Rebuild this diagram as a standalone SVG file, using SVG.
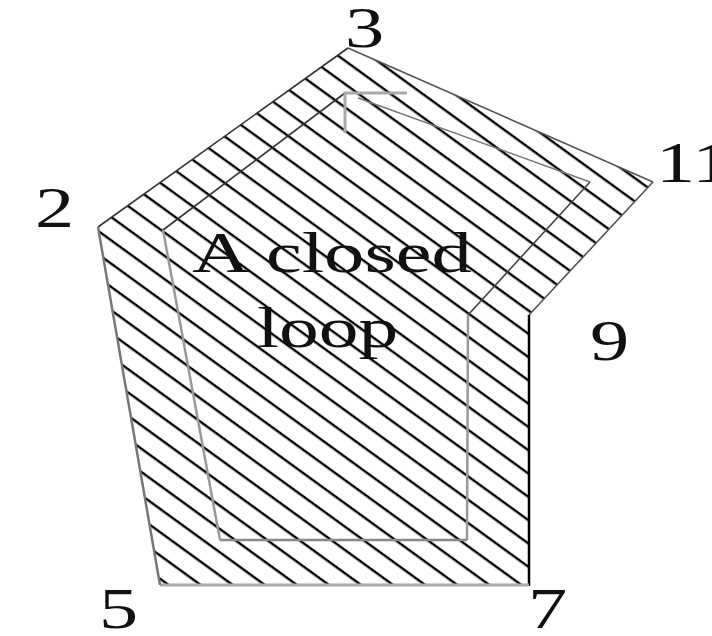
<svg xmlns="http://www.w3.org/2000/svg" width="712" height="636" viewBox="0 0 712 636">
  <defs>
    <pattern id="hatch" patternUnits="userSpaceOnUse" width="12" height="18.85" patternTransform="rotate(36)">
      <rect x="-1" y="14.8" width="14" height="2.4" fill="#000"/>
    </pattern>
    <style>
      .lbl { font-family: "Liberation Serif", "Times New Roman", serif; font-size: 56px; fill: #111; }
      .edge { fill: none; stroke-linecap: butt; }
    </style>
  </defs>
  <rect width="712" height="636" fill="#fff"/>

  <g id="region">
    <polygon points="98,227 348,48 653,182 529,315 529,585 160,585" fill="url(#hatch)"/>
  </g>

  <g id="outer-boundary" class="edge">
    <line x1="98" y1="227" x2="348" y2="48" stroke="#333" stroke-width="1.6"/>
    <line x1="348" y1="48" x2="653" y2="182" stroke="#555" stroke-width="1.6"/>
    <line x1="653" y1="182" x2="529" y2="315" stroke="#555" stroke-width="1.6"/>
    <line x1="529" y1="315" x2="529" y2="586" stroke="#000" stroke-width="2.5"/>
    <line x1="529" y1="585" x2="160" y2="585" stroke="#aaa" stroke-width="3"/>
    <line x1="160" y1="585" x2="98" y2="227" stroke="#777" stroke-width="2.5"/>
  </g>

  <g id="inner-loop" class="edge">
    <line x1="163" y1="230" x2="345" y2="93" stroke="#333" stroke-width="1.6"/>
    <path d="M345,133 V93 H407" stroke="#aaa" stroke-width="3"/>
    <line x1="358" y1="98" x2="590" y2="182" stroke="#777" stroke-width="1.5"/>
    <line x1="590" y1="182" x2="468" y2="315" stroke="#444" stroke-width="1.6"/>
    <line x1="468" y1="315" x2="467" y2="540" stroke="#999" stroke-width="2.5"/>
    <line x1="467" y1="540" x2="220" y2="540" stroke="#888" stroke-width="2.5"/>
    <line x1="220" y1="540" x2="163" y2="230" stroke="#999" stroke-width="2.5"/>
  </g>

  <g id="caption">
    <text class="lbl" transform="matrix(1.44,0,0,1,192,272)">A closed</text>
    <text class="lbl" transform="matrix(1.42,0,0,1,257,347)">loop</text>
  </g>

  <g id="labels">
    <text class="lbl" transform="matrix(1.4,0,0,1,35,227)">2</text>
    <text class="lbl" transform="matrix(1.4,0,0,1,345,47)">3</text>
    <text class="lbl" transform="matrix(1.4,0,0,1,656,182)">11</text>
    <text class="lbl" transform="matrix(1.4,0,0,1,590,360)">9</text>
    <text class="lbl" transform="matrix(1.4,0,0,1,99,628)">5</text>
    <text class="lbl" transform="matrix(1.4,0,0,1,528,628)">7</text>
  </g>
</svg>
